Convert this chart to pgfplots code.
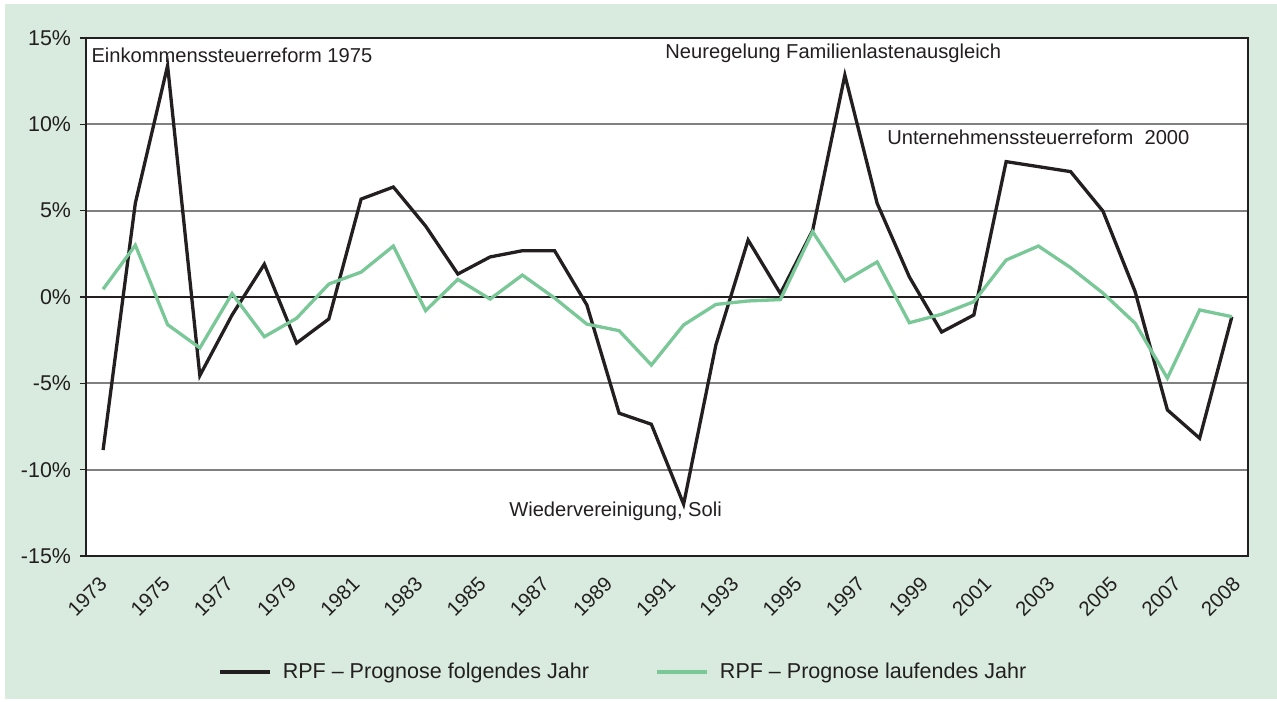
\documentclass[border=0pt]{standalone}
\usepackage{pgfplots}
\pgfplotsset{compat=1.18}
\usepackage{fontspec}
\setmainfont{Liberation Sans}
\definecolor{bg}{RGB}{216,235,222}
\definecolor{grn}{RGB}{122,199,152}
\definecolor{txt}{RGB}{35,31,32}
\definecolor{gridc}{RGB}{128,128,128}
\pgfplotstableread{
year folgend laufend
1973 -8.86 0.45
1974 5.44 3.00
1975 13.40 -1.60
1976 -4.55 -2.95
1977 -1.04 0.20
1978 1.90 -2.30
1979 -2.67 -1.23
1980 -1.27 0.75
1981 5.67 1.44
1982 6.37 2.95
1983 4.11 -0.79
1984 1.33 1.02
1985 2.32 -0.12
1986 2.68 1.27
1987 2.68 -0.06
1988 -0.46 -1.57
1989 -6.73 -1.95
1990 -7.37 -3.94
1991 -12.00 -1.62
1992 -2.78 -0.43
1993 3.30 -0.23
1994 0.20 -0.15
1995 3.85 3.78
1996 12.85 0.93
1997 5.43 2.03
1998 1.16 -1.49
1999 -2.03 -1.00
2000 -1.04 -0.27
2001 7.84 2.14
2002 7.55 2.95
2003 7.26 1.70
2004 4.98 0.23
2005 0.31 -1.52
2006 -6.54 -4.70
2007 -8.18 -0.75
2008 -1.14 -1.14
}\datatable
\begin{document}
\begin{tikzpicture}
\path[use as bounding box] (0,0) rectangle (638.5bp,351bp);
\fill[bg] (2.5bp,1.5bp) rectangle (638.5bp,349bp);
\begin{axis}[
  at={(43bp,73bp)}, anchor=south west,
  scale only axis, width=581bp, height=259bp,
  xmin=1972.47, xmax=2008.5, ymin=-15, ymax=15,
  axis background/.style={fill=white},
  axis line style={txt, line width=0.6bp},
  xtick={1973,1974.959,1976.918,1978.878,1980.837,1982.796,1984.755,1986.714,1988.674,1990.633,1992.592,1994.551,1996.510,1998.470,2000.429,2002.388,2004.347,2006.306,2008.15},
  xticklabels={1973,1975,1977,1979,1981,1983,1985,1987,1989,1991,1993,1995,1997,1999,2001,2003,2005,2007,2008},
  ytick={-15,-10,-5,0,5,10,15},
  yticklabels={-15\%,-10\%,-5\%,0\%,5\%,10\%,15\%},
  ytick pos=left,
  tick align=outside, major tick length=3bp,
  xtick style={draw=none},
  ytick style={txt, line width=0.6bp},
  ymajorgrids, grid style={gridc, line width=0.9bp},
  extra y ticks={0}, extra y tick labels={},
  extra y tick style={grid style={txt, line width=0.6bp}},
  yticklabel style={font=\fontsize{10.75}{12}\selectfont, text=txt, xshift=-1bp},
  xticklabel style={font=\fontsize{10.2}{12}\selectfont, text=txt, rotate=45, anchor=east, yshift=-6.5bp, xshift=-3bp},
  legend style={at={(0.463,-0.224)}, anchor=center, draw=none, fill=none,
    font=\fontsize{10.8}{12}\selectfont, text=txt,
    /tikz/every odd column/.append style={column sep=3.5bp},
    /tikz/every even column/.append style={column sep=31bp}},
  legend columns=2,
  legend image code/.code={\draw[#1, line width=2bp] (0bp,0bp) -- (25bp,0bp);},
]
\addplot[txt, line width=1.65bp, line join=miter] table[x=year, y=folgend] {\datatable};
\addlegendentry{RPF – Prognose folgendes Jahr}
\addplot[grn, line width=1.65bp, line join=miter] table[x=year, y=laufend] {\datatable};
\addlegendentry{RPF – Prognose laufendes Jahr}
\node[anchor=west, text=txt, font=\fontsize{10.1}{12}\selectfont, inner sep=0pt] at (axis cs:1972.63,14.0) {Einkommenssteuerreform 1975};
\node[text=txt, font=\fontsize{10.1}{12}\selectfont, inner sep=0pt] at (axis cs:1995.64,14.1) {Neuregelung Familienlastenausgleich};
\node[text=txt, font=\fontsize{10.1}{12}\selectfont, inner sep=0pt] at (axis cs:2002.0,9.26) {Unternehmenssteuerreform\ \ 2000};
\node[text=txt, font=\fontsize{10.1}{12}\selectfont, inner sep=0pt] at (axis cs:1988.89,-12.39) {Wiedervereinigung, Soli};
\end{axis}
\end{tikzpicture}
\end{document}
